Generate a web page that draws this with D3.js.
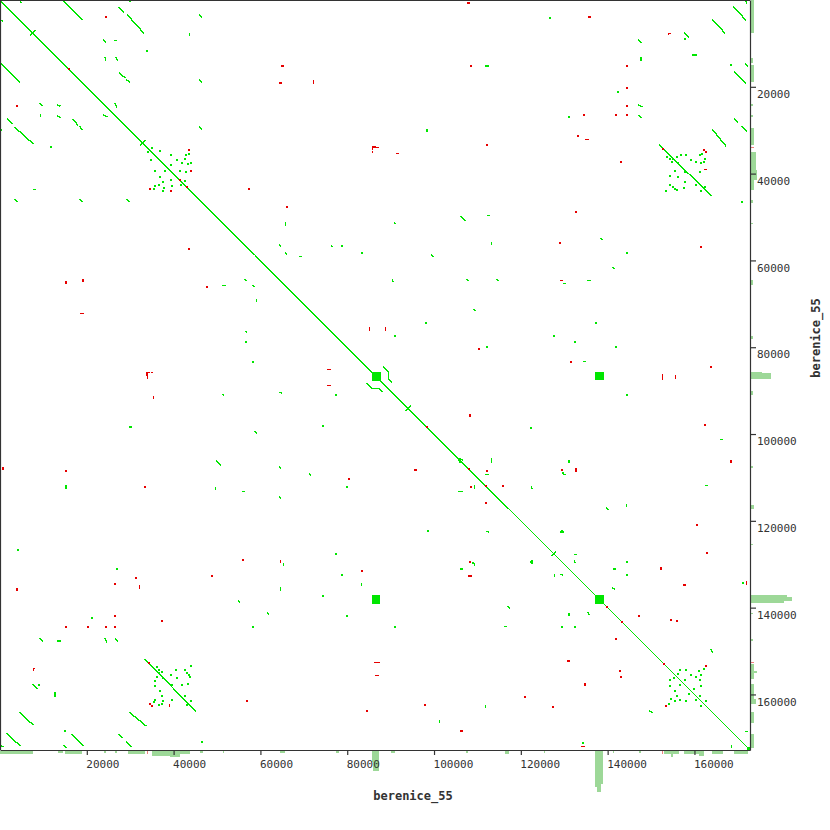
<!DOCTYPE html>
<html lang="en">
<head>
<meta charset="utf-8">
<title>berenice_55 vs berenice_55</title>
<script src="https://cdn.jsdelivr.net/npm/d3@7"></script>
<style>
  body { margin: 0; background: #fff; }
  svg text { font-family: "DejaVu Sans Mono", "Liberation Mono", monospace; fill: #333; }
</style>
</head>
<body>
<div id="chart"></div>
<script>
// self comparison, so every hit is drawn at (x,y) and mirrored at (y,x)
var seqName = "berenice_55";
var seqLength = 172800;
var tickValues = [20000, 40000, 60000, 80000, 100000, 120000, 140000, 160000];

// forward (direct repeat) hits, upper triangle: [x1, y1, x2, y2]
var fwdSegs = [
  [14700,200,18900,4400], [27400,1800,28500,2800], [29400,3500,33100,7600],
  [46000,3500,46500,3900], [23900,9200,24400,9700], [26500,9400,26900,9400],
  [43700,7800,43700,8100], [24200,13300,24400,13800], [26700,13300,27100,13800],
  [27600,16800,28100,17300], [28300,17500,28800,17900], [29200,18400,29900,18900],
  [46000,18400,46500,18900], [26500,23900,26900,24600], [46000,29200,46500,29700],
  [4600,200,4800,500], [147200,9200,147700,9700], [157800,7600,158700,8500],
  [147700,13300,147700,13800], [159600,12700,160500,12700], [147200,24200,147900,24600],
  [147200,26700,147700,27100], [138500,55000,138700,55200], [141200,61600,141500,61900],
  [169100,1600,171800,4600], [171800,200,172000,700], [164200,4600,167000,7600],
  [169300,16600,171800,19100], [171800,14700,172300,15200], [169300,27400,170000,28100],
  [170900,29200,172000,30100], [164200,29900,167200,33600], [152000,33400,163800,45100],
  [112000,15200,112400,15200], [98400,29900,98400,30300], [65800,51300,65800,51800],
  [90900,51300,91100,51500], [106300,49900,107200,50800], [112400,49700,112800,49700],
  [113200,55900,113200,56400], [64400,56400,64600,56600], [76400,56600,76600,56800],
  [65800,58200,66000,58700], [69000,59100,69500,59100], [99400,58700,99800,59100],
  [107600,64400,107900,64600], [114500,64400,114800,64600], [129800,65300,130200,65300],
  [135500,64600,136000,64600], [109300,71300,109500,71500], [134500,83300,134900,83300],
  [166100,101200,166500,101200], [113200,106200,113200,106500], [131100,106200,131100,106500],
  [129800,109300,130200,109300], [112000,109300,112400,109300], [105600,106000,106000,106500],
  [122400,112200,122600,112500], [105600,113200,106000,113200], [162600,111800,163000,111800],
  [139800,117100,140100,117300], [144400,116200,144400,116700], [129300,122600,129700,122600],
  [132300,127700,132700,127700], [141300,131100,141700,131100], [141200,135500,141500,135700],
  [132300,129300,132500,129700], [163800,149700,164200,150200], [171700,168600,172100,168600],
  [90400,64600,90600,64900],
  [88300,84600,89500,85800], [89500,85800,89500,87400], [89500,87400,90200,88100],
  [93600,94600,94600,93600], [7100,8100,8100,7100], [32400,33400,33400,32400],
  [127200,127900,127900,127200]
];

// short forward hits drawn as dots: [x, y]
var fwdDots = [
  [29900,200], [33800,11700], [126700,4100], [157800,9000], [142400,21200], [131100,26900],
  [144400,58200], [168400,15000], [170900,46500], [78700,56600], [83300,58200], [137300,74500],
  [127700,77500], [132500,78700], [112200,80000], [141900,80000], [144400,91100], [122400,98700],
  [109000,129700], [122400,129500], [144400,129500], [144400,132500], [171100,134300],
  [90900,77500], [98200,74500],
  // repeat cluster near 35-44 kb
  [35000,34000], [36800,34700], [39300,35700], [42800,35700], [43500,35400], [42600,36600],
  [43900,37500], [41900,37500], [40700,36800], [39300,38000], [42800,39600], [41400,39300],
  [43200,37700], [42600,41600],
  // repeat cluster near 154-162 kb
  [156200,155300], [156600,154300], [158000,154300], [159200,155500], [160300,155900],
  [161000,154600], [161500,155500], [162200,154100], [159900,158700], [161200,160300],
  [162600,161500], [161200,156600], [157800,156600], [161500,158000],
  // the two clusters against each other
  [153600,36100], [154300,36600], [155000,36600], [155900,36100], [156900,35700], [158000,35700],
  [159200,36800], [160300,37300], [161200,35700], [161700,35400], [162400,36600], [161500,37500],
  [162200,37300], [161200,39600], [155500,39300], [154800,37300], [156200,37500], [154300,40500],
  [156200,40700], [157800,39600], [157800,41900], [154300,42600], [155000,43000], [155500,43500],
  [155900,43700], [153400,43900], [160300,42600], [162400,43000], [161500,43900], [157600,43200]
];

// reverse (inverted repeat) hits, upper triangle
var revSegs = [
  [135700,3900,136100,3900], [154000,7900,154300,7700], [135000,32200,135500,32200],
  [162400,39100,162800,39100], [107700,700,108100,700], [64900,15200,65300,15200],
  [64400,19100,64800,19100], [72200,18700,72200,19100], [85800,33800,87200,34000],
  [85800,33800,85800,34400], [85800,34900,85800,35200], [91300,35400,91700,35400],
  [129100,64600,129500,64600], [152700,86300,152700,87400], [155700,86500,155700,87200],
  [108300,95500,108300,96000], [168400,106100,168400,106600], [132700,108100,132700,108600],
  [172000,134100,172000,134600], [152300,130700,152300,131100], [157600,134800,158000,134800],
  [85100,75500,85100,76000], [88800,75500,88800,76000]
];

var revDots = [
  [24400,3900], [144400,15200], [144400,20200], [144400,24400], [141900,26500], [134600,26500],
  [144400,26500], [133200,31300], [143100,37300], [132700,48800], [129000,55900], [152700,34300],
  [162200,34500], [162600,35000], [108600,15200], [112200,33400], [66200,47600], [110400,80300],
  [131600,83300], [163800,84600], [162400,98000], [115900,112000], [112200,108600], [160500,121000],
  [162800,127400], [129500,108300], [154600,142800], [155900,143100], [162600,153400],
  [147200,141900], [57300,43500], [161500,57000], [43500,34500], [43900,39300]
];

// palindromes sitting on the main diagonal
var diagRev = [15900, 41400, 43000, 98400, 108100, 112000, 139800, 143300, 153000];

// dense tandem repeat blocks: [x1, x2, y1, y2]
var blocks = [
  [85600, 87700, 85600, 87700],
  [137100, 139200, 137100, 139200],
  [137100, 139200, 85800, 87600],
  [172100, 172800, 172100, 172800]
];

// hit coverage along the sequence: [start, end, forward, reverse]
var coverage = [
  [0,7600,2,0], [13300,14500,1,0], [15000,18900,2,0], [23900,24400,1,0], [26500,26900,1,0],
  [29400,33400,2,0], [33800,34000,0,2], [35000,39100,3,0], [39100,41400,4,0], [41400,43700,2,0],
  [46000,46700,1,0], [51300,51500,1,0], [64400,65600,1,0], [77300,78000,1,0],
  [85600,86000,7,0], [86000,86300,13,0], [86300,86500,11,2], [86500,87400,13,0],
  [90200,91100,1,0], [107400,107900,1,0], [116400,117300,2,0], [125400,125600,1,0],
  [137100,137500,24,0], [137500,138500,27,0], [138500,139000,22,0], [141200,141400,1,0],
  [147200,147700,1,0], [152500,152700,0,2], [153000,154600,2,0], [154600,155000,4,0],
  [155000,156400,2,0], [157600,161000,2,0], [161000,162200,3,0], [164000,166500,2,0],
  [169100,172300,2,0]
];

var size = 750;
var svg = d3.select("#chart").append("svg")
    .attr("width", 830).attr("height", 830);

var x = d3.scaleLinear().domain([0, seqLength]).range([0, size]);
var y = d3.scaleLinear().domain([0, seqLength]).range([0, size]);
var h = d3.scaleLinear().domain([0, 27]).range([0, 41]);

var green = "#00e600", red = "#e60000";
var histGreen = "#9dd898", histRed = "#f08080";

var plot = svg.append("g").attr("shape-rendering", "crispEdges");

function both(list) {
  var out = [];
  list.forEach(function(d) {
    out.push(d);
    if (d.length == 4) out.push([d[1], d[0], d[3], d[2]]);
    else out.push([d[1], d[0]]);
  });
  return out;
}

// main diagonal
plot.append("line")
    .attr("x1", x(0)).attr("y1", y(0))
    .attr("x2", x(seqLength)).attr("y2", y(seqLength))
    .attr("stroke", green).attr("stroke-width", 1.4);

function drawSegs(list, color) {
  plot.append("g").selectAll("line")
      .data(both(list))
      .enter().append("line")
      .attr("x1", function(d) { return x(d[0]); })
      .attr("y1", function(d) { return y(d[1]); })
      .attr("x2", function(d) { return x(d[2]); })
      .attr("y2", function(d) { return y(d[3]); })
      .attr("stroke", color).attr("stroke-width", 1.4)
      .attr("stroke-linecap", "square");
}

function drawDots(list, color) {
  plot.append("g").selectAll("rect")
      .data(both(list))
      .enter().append("rect")
      .attr("x", function(d) { return Math.round(x(d[0])) - 1; })
      .attr("y", function(d) { return Math.round(y(d[1])) - 1; })
      .attr("width", 2).attr("height", 2)
      .attr("fill", color);
}

drawSegs(fwdSegs, green);
drawDots(fwdDots, green);

// blocks (off-diagonal ones mirrored)
var allBlocks = [];
blocks.forEach(function(b) {
  allBlocks.push(b);
  if (b[0] != b[2]) allBlocks.push([b[2], b[3], b[0], b[1]]);
});
plot.append("g").selectAll("rect")
    .data(allBlocks)
    .enter().append("rect")
    .attr("x", function(d) { return x(d[0]); })
    .attr("y", function(d) { return y(d[2]); })
    .attr("width", function(d) { return x(d[1]) - x(d[0]); })
    .attr("height", function(d) { return y(d[3]) - y(d[2]); })
    .attr("fill", green);

drawSegs(revSegs, red);
drawDots(revDots, red);
drawDots(diagRev.map(function(p) { return [p, p]; }), red);

// coverage histograms below and to the right
var hist = svg.append("g").attr("shape-rendering", "crispEdges");
coverage.forEach(function(c) {
  var w = Math.max(1, x(c[1]) - x(c[0]));
  if (c[2] > 0) {
    hist.append("rect").attr("x", x(c[0])).attr("y", size + 1)
        .attr("width", w).attr("height", h(c[2])).attr("fill", histGreen);
    hist.append("rect").attr("x", size + 1).attr("y", y(c[0]))
        .attr("width", h(c[2])).attr("height", w).attr("fill", histGreen);
  }
  if (c[3] > 0) {
    hist.append("rect").attr("x", x(c[0])).attr("y", size + 1 + h(c[2]))
        .attr("width", w).attr("height", h(c[3])).attr("fill", histRed);
    hist.append("rect").attr("x", size + 1 + h(c[2])).attr("y", y(c[0]))
        .attr("width", h(c[3])).attr("height", w).attr("fill", histRed);
  }
});

// frame: top and left border
svg.append("path")
    .attr("d", "M0.5," + size + "V0.5H" + size)
    .attr("fill", "none").attr("stroke", "#333").attr("stroke-width", 1.2);

// axes
var xAxis = svg.append("g")
    .attr("transform", "translate(0," + size + ")")
    .call(d3.axisBottom(x).tickValues(tickValues).tickSize(5).tickSizeOuter(0)
      .tickFormat(d3.format("d")));
xAxis.selectAll("text")
    .attr("y", 17.8).attr("dy", null).attr("x", -1)
    .attr("text-anchor", "start").style("font-size", "11px");

var yAxis = svg.append("g")
    .attr("transform", "translate(" + size + ",0)")
    .call(d3.axisRight(y).tickValues(tickValues).tickSize(6).tickSizeOuter(0)
      .tickFormat(d3.format("d")));
yAxis.selectAll("text")
    .attr("x", 7).attr("y", 10.6).attr("dy", null)
    .style("font-size", "11px");

svg.selectAll(".domain, .tick line")
    .attr("stroke", "#333").attr("stroke-width", 1.2);
svg.selectAll(".tick text").style("fill", "#333");

svg.append("text")
    .attr("x", 413).attr("y", 800)
    .attr("text-anchor", "middle")
    .style("font-size", "12px").style("font-weight", "bold")
    .text(seqName);

svg.append("text")
    .attr("transform", "translate(820,338) rotate(-90)")
    .attr("text-anchor", "middle")
    .style("font-size", "12px").style("font-weight", "bold")
    .text(seqName);
</script>
</body>
</html>
